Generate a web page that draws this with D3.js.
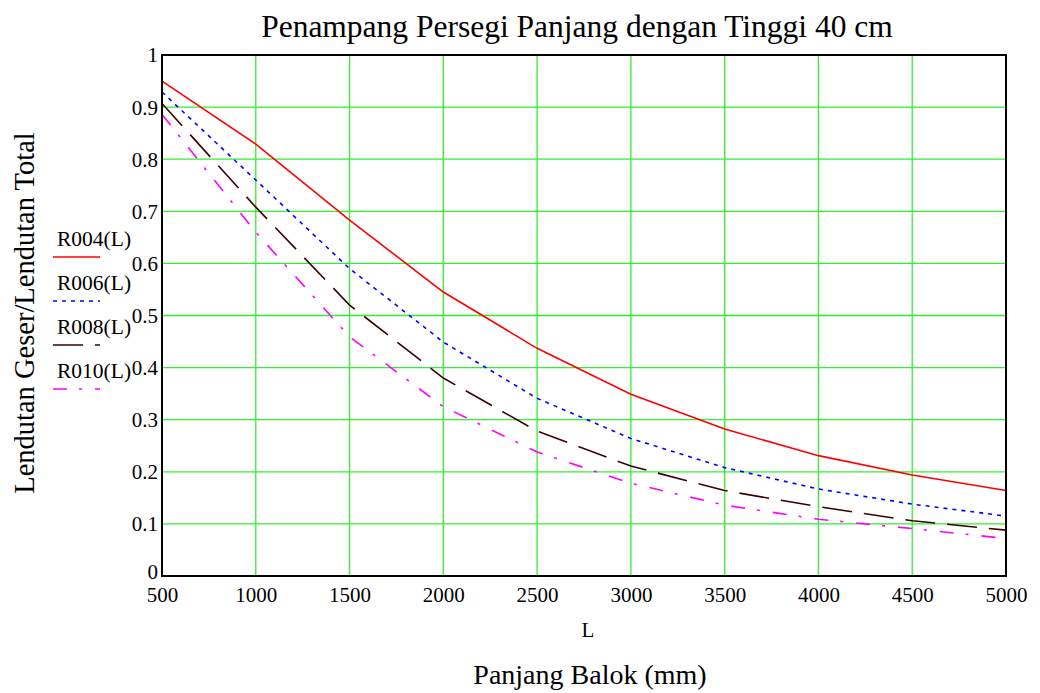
<!DOCTYPE html>
<html><head><meta charset="utf-8">
<script src="https://cdn.jsdelivr.net/npm/d3@7"></script>
<style>body{margin:0;background:#fff}svg{display:block}text{font-family:"Liberation Serif","Times New Roman",serif;fill:#000}</style>
</head><body><svg id="c" width="1040" height="693"></svg>
<script>
const lengths = [500,1000,1500,2000,2500,3000,3500,4000,4500,5000];
const R004 = [0.950,0.829,0.683,0.545,0.437,0.349,0.282,0.231,0.194,0.164];
const R006 = [0.929,0.760,0.590,0.449,0.341,0.264,0.208,0.167,0.138,0.115];
const R008 = [0.907,0.708,0.520,0.380,0.278,0.211,0.164,0.133,0.106,0.088];
const R010 = [0.886,0.660,0.459,0.325,0.238,0.178,0.136,0.109,0.091,0.072];
const seriesNames = ["R004(L)","R006(L)","R008(L)","R010(L)"];
const xTicks = [500,1000,1500,2000,2500,3000,3500,4000,4500,5000];
const yTicks = [0,0.1,0.2,0.3,0.4,0.5,0.6,0.7,0.8,0.9,1];
const yTickLabels = ["0","0.1","0.2","0.3","0.4","0.5","0.6","0.7","0.8","0.9","1"];
const title = "Penampang Persegi Panjang dengan Tinggi 40 cm";
const yTitle = "Lendutan Geser/Lendutan Total";
const xVarLabel = "L";
const xTitle = "Panjang Balok (mm)";

const styles = [
  {color:"#ff0000", dash:null},
  {color:"#0000ff", dash:"4,5"},
  {color:"#3a0000", dash:"30,12"},
  {color:"#ff00ff", dash:"14,12,3,13"}
];
const data = [R004,R006,R008,R010];

const svg = d3.select("#c");
const L=162, R=1006, T=55, B=576;
const x = d3.scaleLinear().domain([500,5000]).range([L,R]);
const y = d3.scaleLinear().domain([0,1]).range([B,T]);

// grid
const g = svg.append("g");
g.selectAll(".vg").data(xTicks.slice(1,-1)).join("line")
  .attr("x1",d=>x(d)).attr("x2",d=>x(d)).attr("y1",T).attr("y2",B)
  .attr("stroke","#33ee33").attr("stroke-width",1.3);
g.selectAll(".hg").data(yTicks.slice(1,-1)).join("line")
  .attr("y1",d=>y(d)).attr("y2",d=>y(d)).attr("x1",L).attr("x2",R)
  .attr("stroke","#33ee33").attr("stroke-width",1.3);

// lines
const line = d3.line().x((d,i)=>x(lengths[i])).y(d=>y(d));
data.forEach((s,k)=>{
  svg.append("path").datum(s).attr("d",line).attr("fill","none")
    .attr("stroke",styles[k].color).attr("stroke-width",1.6)
    .attr("stroke-dasharray",styles[k].dash);
});

// frame
svg.append("rect").attr("x",L).attr("y",T).attr("width",R-L).attr("height",B-T)
  .attr("fill","none").attr("stroke","#000").attr("stroke-width",2);

// axes labels via d3 axes
const xAxis = d3.axisBottom(x).tickValues(xTicks).tickSize(0).tickPadding(0).tickFormat(d3.format("d"));
const xa = svg.append("g").attr("transform",`translate(0,${B})`).call(xAxis);
xa.select(".domain").remove();
xa.selectAll("text").attr("font-size",21).attr("font-family","Liberation Serif").attr("fill","#000")
  .attr("dy",null).attr("y",26);

const yAxis = d3.axisLeft(y).tickValues(yTicks).tickSize(0).tickPadding(4).tickFormat((d,i)=>yTickLabels[i]);
const ya = svg.append("g").attr("transform",`translate(${L},0)`).call(yAxis);
ya.select(".domain").remove();
ya.selectAll("text").attr("font-size",21).attr("font-family","Liberation Serif").attr("fill","#000")
  .attr("dy",(d)=>d===0?"0.1em":"0.33em");

// titles
svg.append("text").attr("x",577).attr("y",37).attr("text-anchor","middle").attr("font-size",31.5).text(title);
svg.append("text").attr("transform","translate(34,313) rotate(-90)").attr("text-anchor","middle").attr("font-size",28.5).text(yTitle);
svg.append("text").attr("x",588).attr("y",637).attr("text-anchor","middle").attr("font-size",21).text(xVarLabel);
svg.append("text").attr("x",590).attr("y",684).attr("text-anchor","middle").attr("font-size",28).text(xTitle);

// legend
const lg = svg.append("g");
seriesNames.forEach((n,k)=>{
  const by = 246 + k*44;
  lg.append("text").attr("x",57).attr("y",by).attr("font-size",21.5).text(n);
  lg.append("line").attr("x1",53).attr("x2",100).attr("y1",by+11).attr("y2",by+11)
    .attr("stroke",styles[k].color).attr("stroke-width",1.6).attr("stroke-dasharray",styles[k].dash);
});
</script></body></html>
